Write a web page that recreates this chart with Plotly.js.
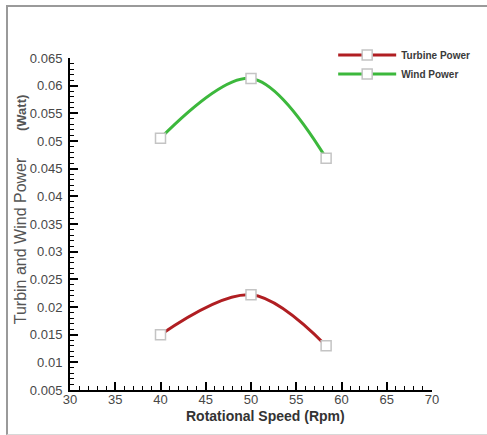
<!DOCTYPE html>
<html>
<head>
<meta charset="utf-8">
<script src="https://cdn.plot.ly/plotly-3.0.1.min.js"></script>
<style>
  html, body { margin: 0; padding: 0; background: #fff; }
  #wrap { position: relative; width: 487px; height: 435px; }
  #chart { position: absolute; left: 0; top: 0; width: 487px; height: 435px; }
  #frame { position: absolute; left: 6px; top: 5px; width: 481px; height: 427px;
           border-left: 2px solid #9a9a9a; border-top: 2px solid #9a9a9a;
           border-bottom: 1px solid #d8d8d8; pointer-events: none; }
</style>
</head>
<body>
<div id="wrap">
  <div id="chart"></div>
  <div id="frame"></div>
</div>
<script>
// Data
const rotationalSpeed = [40, 50, 58.3];
const turbinePower = [0.015, 0.0222, 0.013];
const windPower = [0.0505, 0.0613, 0.0469];
const seriesNames = ['Turbine Power', 'Wind Power'];
const xTitle = 'Rotational Speed (Rpm)';
const yTitleMain = 'Turbin and Wind Power';
const yTitleUnit = '(Watt)';

const FONT = 'Arial, "Liberation Sans", sans-serif';

const traces = [
  {
    x: rotationalSpeed, y: turbinePower, name: seriesNames[0],
    type: 'scatter', mode: 'lines+markers',
    line: { color: '#b01e22', width: 3, shape: 'spline', smoothing: 1 },
    marker: { symbol: 'square', size: 10, color: '#ffffff', line: { color: '#c4c4c4', width: 1.5 } }
  },
  {
    x: rotationalSpeed, y: windPower, name: seriesNames[1],
    type: 'scatter', mode: 'lines+markers',
    line: { color: '#3cb83c', width: 3, shape: 'spline', smoothing: 1 },
    marker: { symbol: 'square', size: 10, color: '#ffffff', line: { color: '#c4c4c4', width: 1.5 } }
  }
];

const tickFont = { family: FONT, size: 13, color: '#474747' };

const layout = {
  width: 487, height: 435,
  paper_bgcolor: '#ffffff', plot_bgcolor: '#ffffff',
  margin: { l: 70, r: 53, t: 58, b: 45, pad: 0 },
  showlegend: true,
  legend: {
    x: 0.727, xanchor: 'left', y: 1.053, yanchor: 'top',
    bgcolor: 'rgba(0,0,0,0)', borderwidth: 0,
    itemwidth: 58, tracegroupgap: 0,
    font: { family: FONT, size: 10, color: '#3a3a3a', weight: 'bold' }
  },
  xaxis: {
    range: [30, 70], dtick: 5, tick0: 30,
    showgrid: false, zeroline: false,
    showline: true, linecolor: '#000', linewidth: 2,
    ticks: 'inside', ticklen: 8, tickwidth: 2, tickcolor: '#000',
    minor: { dtick: 1, ticks: 'inside', ticklen: 4, tickwidth: 1, tickcolor: '#000', showgrid: false },
    tickfont: tickFont,
    ticklabelstandoff: -4
  },
  yaxis: {
    range: [0.005, 0.065], dtick: 0.005, tick0: 0.005,
    showgrid: false, zeroline: false,
    showline: true, linecolor: '#000', linewidth: 2,
    ticks: 'inside', ticklen: 8, tickwidth: 2, tickcolor: '#000',
    minor: { dtick: 0.001, ticks: 'inside', ticklen: 4, tickwidth: 1, tickcolor: '#000', showgrid: false },
    tickfont: tickFont,
    ticklabelstandoff: 3
  },
  annotations: [
    {
      xref: 'paper', yref: 'paper', x: 0.5412, y: -0.0512,
      xanchor: 'center', yanchor: 'top', showarrow: false, borderpad: 0,
      text: '<b>' + xTitle + '</b>',
      font: { family: FONT, size: 14, color: '#333' }
    },
    {
      xref: 'paper', yref: 'paper', x: -0.1346, y: 0.5452,
      xanchor: 'center', yanchor: 'middle', showarrow: false, textangle: -90,
      text: yTitleMain + '\u00a0\u00a0\u00a0\u00a0\u00a0\u00a0<b><span style="font-size:13px">' + yTitleUnit + '</span></b>',
      font: { family: FONT, size: 16, color: '#555' }
    }
  ]
};

Plotly.newPlot('chart', traces, layout, { displayModeBar: false, staticPlot: true });
</script>
</body>
</html>
